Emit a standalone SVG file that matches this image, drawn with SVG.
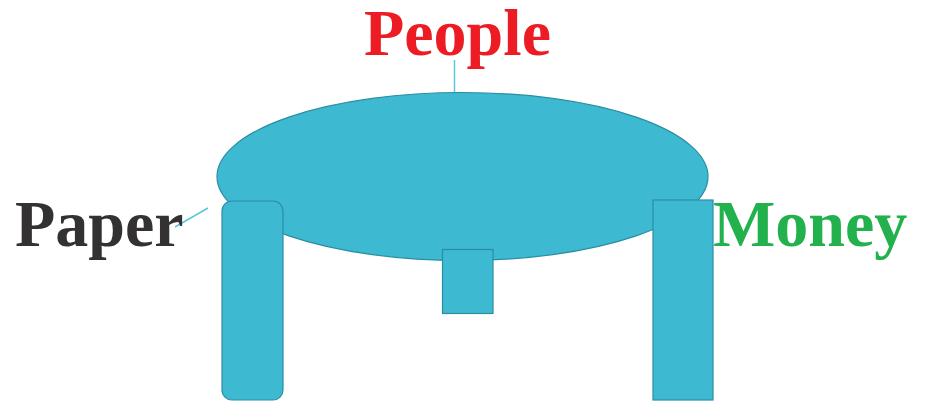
<svg xmlns="http://www.w3.org/2000/svg" width="928" height="403" viewBox="0 0 928 403">
<style>
.shape{fill:#3DB9D1;stroke:#2A8EA2;stroke-width:1.2}
.lbl{font-family:"Liberation Serif",serif;font-weight:bold;font-size:66px}
.conn{stroke:#5CC6DA;stroke-width:1.5;fill:none}
</style>
<rect width="928" height="403" fill="#fff"/>
<g id="connectors">
<line class="conn" x1="454.5" y1="60" x2="454.5" y2="93"/>
<line class="conn" x1="175" y1="227" x2="208" y2="208"/>
</g>
<g id="table-top"><ellipse class="shape" cx="462.5" cy="176.5" rx="245.5" ry="84"/></g>
<g id="leg-left"><rect class="shape" x="222" y="201" width="61" height="199" rx="10"/></g>
<g id="leg-middle"><rect class="shape" x="442.5" y="249.5" width="50.5" height="64"/></g>
<g id="leg-right"><rect class="shape" x="653" y="200" width="60" height="200"/></g>
<g id="label-people"><text class="lbl" x="364" y="55" fill="#ED1C24">People</text></g>
<g id="label-paper"><text class="lbl" x="15" y="246" fill="#333132">Paper</text></g>
<g id="label-money"><text class="lbl" x="713" y="246" fill="#22B14C">Money</text></g>
</svg>
